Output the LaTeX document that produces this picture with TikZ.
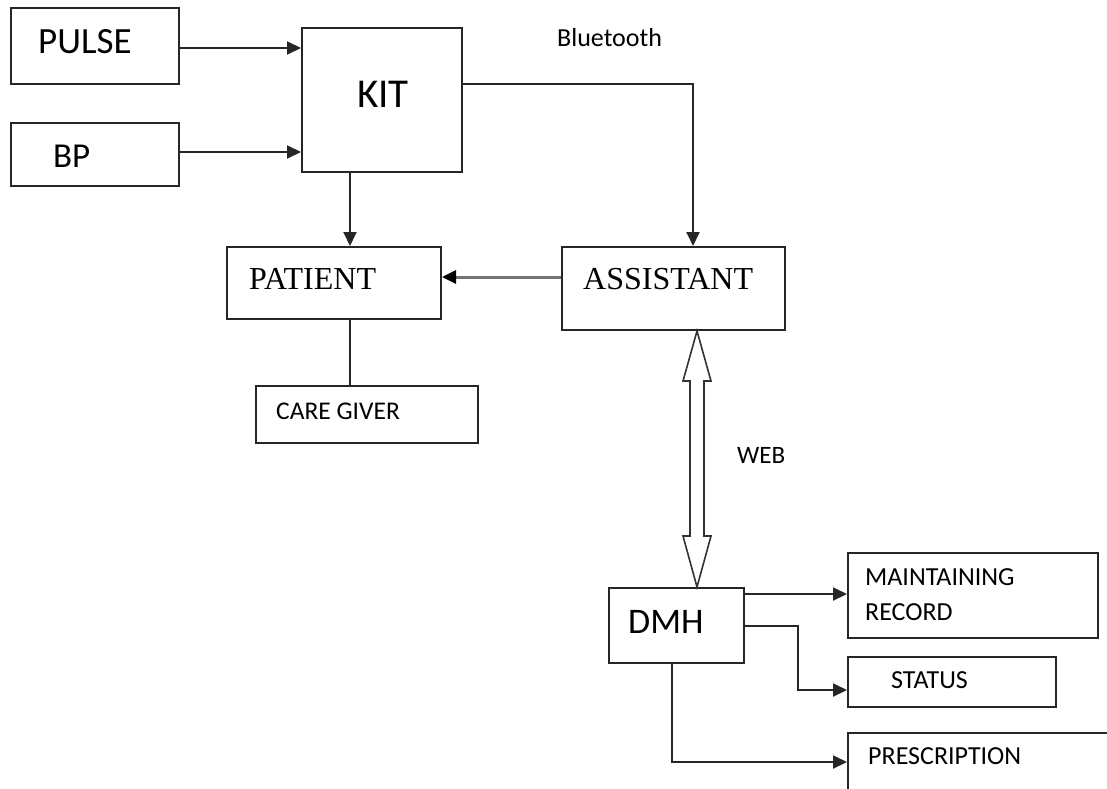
\documentclass[tikz,border=0pt]{standalone}
\usepackage{fontspec}
\setmainfont{Carlito}
\newfontfamily\tms{Liberation Serif}
\usetikzlibrary{arrows.meta,calc}

\tikzset{
  box/.style={draw=black!85, line width=2pt, rectangle, inner sep=0pt, fill=none},
  lbl/.style={anchor=base west, inner sep=0pt, text=black},
  link/.style={draw=black!85, line width=1.9pt},
  arr/.style={link, -{Triangle[length=14pt,width=13pt]}},
  grayarr/.style={draw=black!55, line width=3pt, -{Triangle[length=14pt,width=13pt,fill=black,color=black]}},
  fat/.style={draw=black!80, line width=1.6pt, fill=white}
}

\newcommand{\fs}[1]{\fontsize{#1}{#1}\selectfont}

\begin{document}
\begin{tikzpicture}[x=1pt,y=-1pt]
  \useasboundingbox (0,0) rectangle (1107,788);
  \clip (0,0) rectangle (1107,788);

  % boxes
  \node[box, minimum width=168pt, minimum height=76pt]  (pulse)     at (95,46)      {};
  \node[box, minimum width=168pt, minimum height=63pt]  (bp)        at (95,154.5)   {};
  \node[box, minimum width=160pt, minimum height=144pt] (kit)       at (382,100)    {};
  \node[box, minimum width=214pt, minimum height=72pt]  (patient)   at (334,283)    {};
  \node[box, minimum width=223pt, minimum height=83pt]  (assistant) at (673.5,288.5) {};
  \node[box, minimum width=222pt, minimum height=57pt]  (caregiver) at (367,414.5)  {};
  \node[box, minimum width=135pt, minimum height=75pt]  (dmh)       at (676.5,625.5) {};
  \node[box, minimum width=250pt, minimum height=85pt]  (maint)     at (973,595.5)  {};
  \node[box, minimum width=208pt, minimum height=50pt]  (status)    at (952,682)    {};
  \node[box, minimum width=282pt, minimum height=87pt]  (presc)     at (989,776.5)  {};

  % texts
  \node[lbl] (tpulse)   at (38,53)   {\fs{37}PULSE};
  \node[lbl] (tbp)      at (53,167)  {\fs{35}BP};
  \node[lbl] (tkit)     at (357,107) {\fs{41}KIT};
  \node[lbl] (tpatient) at (249,289) {\tms\fs{32}PATIENT};
  \node[lbl] (tassist)  at (583,289) {\tms\fs{32}ASSISTANT};
  \node[lbl] (tcare)    at (276,419) {\fs{25.5}CARE GIVER};
  \node[lbl] (tblue)    at (557,46)  {\fs{26}Bluetooth};
  \node[lbl] (tweb)     at (737,463) {\fs{25}WEB};
  \node[lbl] (tdmh)     at (628,633) {\fs{36}DMH};
  \node[lbl] (tmaint)   at (865,585) {\fs{26}MAINTAINING};
  \node[lbl] (trecord)  at (865,620) {\fs{26}RECORD};
  \node[lbl] (tstatus)  at (891,688) {\fs{26}STATUS};
  \node[lbl] (tpresc)   at (868,764) {\fs{26}PRESCRIPTION};

  % sensors into the kit
  \draw[arr] ([yshift=-2pt]pulse.east) -- ([yshift=-2pt]pulse.east -| kit.west);
  \draw[arr] ([yshift=2.5pt]bp.east) -- ([yshift=2.5pt]bp.east -| kit.west);

  % kit to patient and assistant
  \draw[arr] ([xshift=-32pt]kit.south) -- ([xshift=-32pt]kit.south |- patient.north);
  \draw[arr] ([yshift=16pt]kit.east) -| ([xshift=19.5pt]assistant.north);

  % assistant to patient
  \draw[grayarr] ([yshift=11.5pt]assistant.west) -- ([yshift=11.5pt]assistant.west -| patient.east);

  % patient and care giver
  \draw[link] ([xshift=16pt]patient.south) -- ([xshift=16pt]patient.south |- caregiver.north);

  % web link (double block arrow)
  \coordinate (wt) at ([xshift=23.5pt]assistant.south);
  \coordinate (wb) at (wt |- dmh.north);
  \draw[fat] (wt) -- ($(wt)+(14,50)$) -- ($(wt)+(7,50)$) -- ($(wb)+(7,-51)$)
    -- ($(wb)+(14,-51)$) -- (wb) -- ($(wb)+(-14,-51)$) -- ($(wb)+(-7,-51)$)
    -- ($(wt)+(-7,50)$) -- ($(wt)+(-14,50)$) -- cycle;

  % dmh outputs
  \draw[arr] ([yshift=31.5pt]dmh.east) -- ([yshift=31.5pt]dmh.east -| maint.west);
  \draw[arr] ([yshift=-0.5pt]dmh.east) -- ++(53,0) |- ([yshift=-8pt]status.west);
  \draw[arr] ([xshift=-4.5pt]dmh.south) |- ([yshift=14.5pt]presc.west);
\end{tikzpicture}
\end{document}
